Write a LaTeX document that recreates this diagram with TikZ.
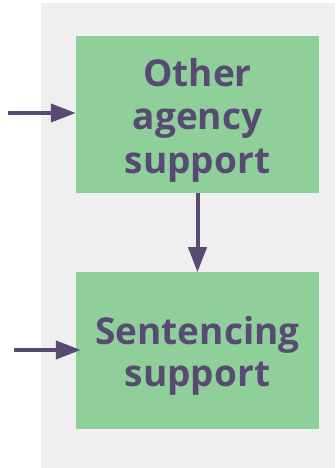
\documentclass[tikz,border=0pt]{standalone}
\usepackage{fontspec}
\newfontfamily\boxfont{Open Sans}
\usetikzlibrary{arrows.meta,positioning}
\definecolor{boxgreen}{HTML}{8FCF9A}
\definecolor{inkpurple}{HTML}{584A72}
\definecolor{panelgray}{HTML}{EFEFEF}
\tikzset{
  stagebox/.style={fill=boxgreen, minimum width=243pt, minimum height=157pt, inner sep=0pt,
    text=inkpurple, text width=235pt, align=center,
    font=\boxfont\bfseries\fontsize{37}{43.5}\selectfont},
  flow/.style={line width=4pt, draw=inkpurple, -{Triangle[length=25pt,width=18pt]}}
}
\begin{document}
\begin{tikzpicture}[x=1pt,y=-1pt]
        \useasboundingbox (0,0) rectangle (335,468);
        \fill[panelgray] (41,3) rectangle (335,468);
        \node[stagebox] (other) at (197.5,114.5) {\rule{0pt}{39pt}Other\\agency\\support};
        \node[stagebox, below=79pt of other] (sentencing) {\rule{0pt}{38pt}Sentencing\\[-2pt]support};
        \coordinate (in1) at (8,113);
        \coordinate (in2) at (14,350);
        \draw[flow] (in1) -- (other.west |- in1);
        \draw[flow] (in2) -- ([xshift=5pt]sentencing.west |- in2);
        \draw[flow] (other.south) -- (sentencing.north);
\end{tikzpicture}
\end{document}
